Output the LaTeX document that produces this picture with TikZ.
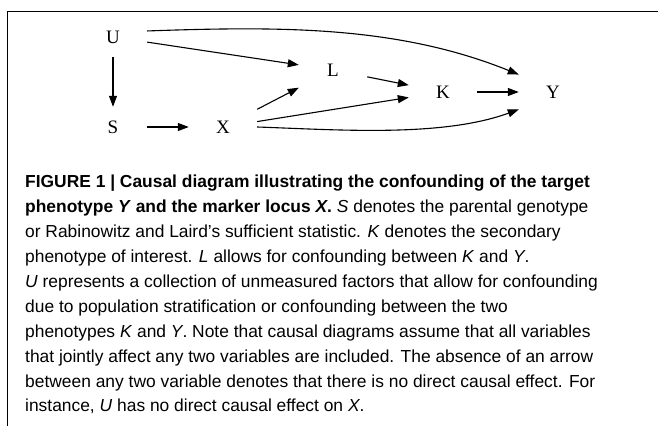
\documentclass[tikz,border=0pt]{standalone}
\usepackage{fontspec}
\setmainfont{Liberation Serif}
\newfontfamily\capfont{Liberation Sans}
\usetikzlibrary{arrows.meta}

\begin{document}
\begin{tikzpicture}[x=1pt,y=1pt,
        var/.style={rectangle,minimum width=68pt,minimum height=40pt,inner sep=0pt,font=\fontsize{19}{19}\selectfont},
        arr/.style={line width=1.1pt,-{Triangle[length=11pt,width=8pt]}}]
        \useasboundingbox (0,0) rectangle (658,426);
        % frame
        \draw[line width=1pt] (7,0) -- (7,414) -- (658,414);
        % variables
        \node[var] (U) at (113,389) {U};
        \node[var] (S) at (113,299) {S};
        \node[var] (X) at (223,299) {X};
        \node[var] (L) at (333,356) {L};
        \node[var] (K) at (443,334) {K};
        \node[var] (Y) at (553,334) {Y};
        % causal arrows
        \draw[arr] (U) -- (S);
        \draw[arr] (S) -- (X);
        \draw[arr] (U) -- (L);
        \draw[arr] (X) -- (L);
        \draw[arr] (X) -- (K);
        \draw[arr] (L) -- (K);
        \draw[arr] (K) -- (Y);
        \draw[arr] (U.10) to[out=2,in=158,looseness=0.9] (Y.153);
        \draw[arr] (X.east) to[out=-2,in=200,looseness=0.8] (Y.207);
        % caption
        \node[anchor=north west,align=left,inner sep=0pt,
            font=\capfont\fontsize{17.4}{24.9}\selectfont] (cap) at (25,251)
            {\textbf{FIGURE 1 | Causal diagram illustrating the confounding of the target}\\
            \textbf{phenotype \textit{Y} and the marker locus \textit{X}.} \textit{S} denotes the parental genotype\\
            or Rabinowitz and Laird’s sufficient statistic. \textit{K} denotes the secondary\\
            phenotype of interest. \textit{L} allows for confounding between \textit{K} and \textit{Y}.\\
            \textit{U} represents a collection of unmeasured factors that allow for confounding\\
            due to population stratification or confounding between the two\\
            phenotypes \textit{K} and \textit{Y}. Note that causal diagrams assume that all variables\\
            that jointly affect any two variables are included. The absence of an arrow\\
            between any two variable denotes that there is no direct causal effect. For\\
            instance, \textit{U} has no direct causal effect on \textit{X}.};
\end{tikzpicture}
\end{document}
